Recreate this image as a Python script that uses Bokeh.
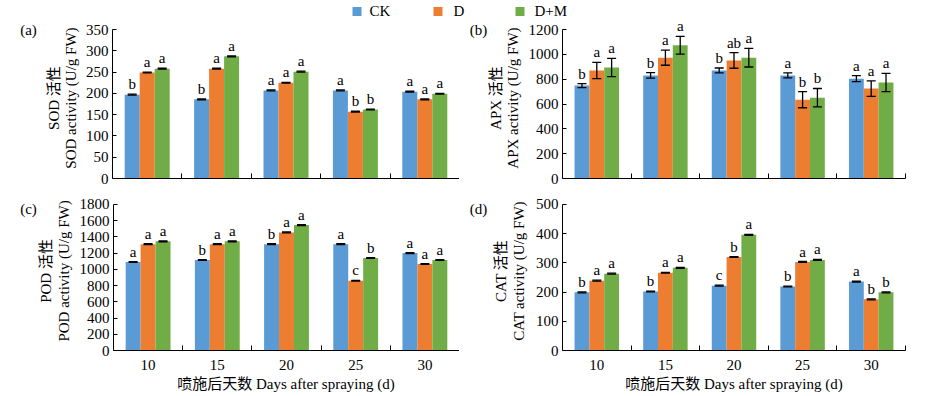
from math import pi
from bokeh.plotting import figure
from bokeh.models import (Range1d, FixedTicker, SingleIntervalTicker, ColumnDataSource, LabelSet)
from bokeh.layouts import column, row
from bokeh.embed import file_html
from bokeh.resources import INLINE
from bokeh.core.properties import value

# ---------------- data ----------------
days = ["10", "15", "20", "25", "30"]
groups = ["CK", "D", "D+M"]
colors = ["#5B9BD5", "#ED7D31", "#70AD47"]

sod_ck = [197, 186, 207, 207, 204]
sod_d = [249, 258, 225, 157, 186]
sod_dm = [258, 287, 251, 162, 199]
sod_ck_err = [1, 1, 1, 1, 1]
sod_d_err = [1, 1, 1, 1, 1]
sod_dm_err = [1, 1, 1, 1, 1]
sod_ck_sig = ["b", "b", "a", "a", "a"]
sod_d_sig = ["a", "a", "a", "b", "a"]
sod_dm_sig = ["a", "a", "a", "b", "a"]

apx_ck = [748, 830, 870, 830, 804]
apx_d = [870, 973, 951, 635, 724]
apx_dm = [894, 1073, 973, 651, 773]
apx_ck_err = [16, 22, 20, 20, 24]
apx_d_err = [66, 61, 63, 65, 62]
apx_dm_err = [73, 71, 75, 74, 73]
apx_ck_sig = ["b", "b", "b", "a", "a"]
apx_d_sig = ["a", "a", "ab", "b", "a"]
apx_dm_sig = ["a", "a", "a", "b", "a"]

pod_ck = [1090, 1115, 1310, 1310, 1200]
pod_d = [1310, 1310, 1455, 860, 1065]
pod_dm = [1345, 1345, 1545, 1140, 1115]
pod_ck_err = [5, 5, 5, 5, 5]
pod_d_err = [5, 5, 5, 5, 5]
pod_dm_err = [5, 5, 5, 5, 5]
pod_ck_sig = ["a", "b", "b", "a", "a"]
pod_d_sig = ["a", "a", "a", "c", "a"]
pod_dm_sig = ["a", "a", "a", "b", "a"]

cat_ck = [199, 202, 222, 219, 236]
cat_d = [239, 266, 320, 303, 175]
cat_dm = [263, 283, 396, 310, 199]
cat_ck_err = [1.5, 1.5, 1.5, 1.5, 1.5]
cat_d_err = [1.5, 1.5, 1.5, 1.5, 1.5]
cat_dm_err = [1.5, 1.5, 1.5, 1.5, 1.5]
cat_ck_sig = ["b", "b", "c", "b", "a"]
cat_d_sig = ["a", "a", "b", "a", "b"]
cat_dm_sig = ["a", "a", "a", "a", "b"]

x_title = "喷施后天数 Days after spraying (d)"

SERIF = "Liberation Serif"
MIXED = "'Liberation Serif', 'Noto Sans CJK SC'"
FS = "15px"

BAR_W = 0.216
offs = [-BAR_W, 0.0, BAR_W]


def blank(x0, y0, w, h):
    """A figure without axes whose data units equal page pixels."""
    p = figure(width=w, height=h, output_backend="svg", toolbar_location=None,
               x_range=Range1d(x0, x0 + w), y_range=Range1d(y0 + h, y0),
               x_axis_type=None, y_axis_type=None,
               min_border_left=0, min_border_right=0, min_border_top=0, min_border_bottom=0)
    p.outline_line_color = None
    p.grid.visible = False
    p.background_fill_color = "white"
    p.border_fill_color = "white"
    return p


def make_panel(P, cx, cy, cw, ch, frame, ext):
    L, T, R, B = frame
    ymax = P["ymax"]
    Te = T - ext  # frame reaches a little above the top tick so letters are not clipped
    ytop = ymax * (B - Te) / (B - T)
    p = figure(width=cw, height=ch, output_backend="svg", toolbar_location=None,
               x_range=Range1d(-0.5, 4.5), y_range=Range1d(0, ytop),
               min_border_left=L - cx, min_border_right=cx + cw - R,
               min_border_top=Te - cy, min_border_bottom=cy + ch - B)
    p.outline_line_color = None
    p.xgrid.visible = False
    p.ygrid.visible = False
    p.background_fill_color = "white"
    p.border_fill_color = "white"

    cap = 4.5 / (R - L) * 5.0
    for k in range(3):
        xs = [i + offs[k] for i in range(5)]
        v = P["vals"][k]
        e = P["errs"][k]
        src = ColumnDataSource(dict(
            x=xs, top=v,
            lo=[a - b for a, b in zip(v, e)], hi=[a + b for a, b in zip(v, e)],
            cl=[x - cap for x in xs], cr=[x + cap for x in xs],
            sig=P["sigs"][k]))
        p.vbar(x="x", top="top", bottom=0, width=BAR_W, source=src,
               fill_color=colors[k], line_color=None)
        p.segment(x0="x", y0="lo", x1="x", y1="hi", source=src, line_color="black", line_width=1.3)
        p.segment(x0="cl", y0="hi", x1="cr", y1="hi", source=src, line_color="black", line_width=1.3)
        p.segment(x0="cl", y0="lo", x1="cr", y1="lo", source=src, line_color="black", line_width=1.3)
        p.add_layout(LabelSet(x="x", y="hi", text="sig", source=src, y_offset=5,
                              text_align="center", text_baseline="alphabetic",
                              text_font=value(SERIF), text_font_size=value(FS),
                              text_color="black"))

    ya = p.yaxis[0]
    ya.ticker = SingleIntervalTicker(interval=P["step"], num_minor_ticks=0)
    ya.bounds = (0, ymax)
    ya.major_tick_in = 4
    ya.major_tick_out = 0
    ya.minor_tick_line_color = None
    ya.axis_line_color = "black"
    ya.major_tick_line_color = "black"
    ya.major_label_standoff = 4
    ya.major_label_text_font = SERIF
    ya.major_label_text_font_size = FS
    ya.major_label_text_color = "black"

    xa = p.xaxis[0]
    xa.ticker = FixedTicker(ticks=[0, 1, 2, 3, 4] if P["xlab"] else [],
                            minor_ticks=[0.5, 1.5, 2.5, 3.5, 4.5])
    xa.major_label_overrides = {i: d for i, d in enumerate(days)}
    xa.major_tick_line_color = None
    xa.minor_tick_in = 5
    xa.minor_tick_out = 0
    xa.minor_tick_line_color = "black"
    xa.axis_line_color = "black"
    xa.major_label_standoff = 3
    xa.major_label_text_font = SERIF
    xa.major_label_text_font_size = FS
    xa.major_label_text_color = "black"
    return p


def make_side(P, x0, y0, w, h):
    """Panel tag and the two-line y title, left of a panel."""
    p = blank(x0, y0, w, h)
    p.text(x=[P["tag"][0]], y=[P["tag"][1]], text=[P["tag_text"]],
           text_align="center", text_baseline="middle",
           text_font=value(SERIF), text_font_size=value(FS), text_color="black")
    p.text(x=[P["yl"][0]], y=[P["ymid"]], text=[P["cn"]], angle=pi / 2,
           text_align="center", text_baseline="middle",
           text_font=value(MIXED), text_font_size=value(FS), text_color="black")
    p.text(x=[P["yl"][1]], y=[P["ymid"]], text=[P["en"]], angle=pi / 2,
           text_align="center", text_baseline="middle",
           text_font=value(SERIF), text_font_size=value(FS), text_color="black")
    return p


panels = [
    dict(tag_text="(a)", cn="SOD 活性", en="SOD activity (U/g FW)", ymax=350, step=50,
         vals=[sod_ck, sod_d, sod_dm], errs=[sod_ck_err, sod_d_err, sod_dm_err],
         sigs=[sod_ck_sig, sod_d_sig, sod_dm_sig], xlab=False,
         tag=(28, 30), yl=(53, 70), ymid=103.5),
    dict(tag_text="(b)", cn="APX 活性", en="APX activity (U/g FW)", ymax=1200, step=200,
         vals=[apx_ck, apx_d, apx_dm], errs=[apx_ck_err, apx_d_err, apx_dm_err],
         sigs=[apx_ck_sig, apx_d_sig, apx_dm_sig], xlab=False,
         tag=(478, 30), yl=(495, 512), ymid=103.5),
    dict(tag_text="(c)", cn="POD 活性", en="POD activity (U/g FW)", ymax=1800, step=200,
         vals=[pod_ck, pod_d, pod_dm], errs=[pod_ck_err, pod_d_err, pod_dm_err],
         sigs=[pod_ck_sig, pod_d_sig, pod_dm_sig], xlab=True,
         tag=(28, 205), yl=(45, 63), ymid=278),
    dict(tag_text="(d)", cn="CAT 活性", en="CAT activity (U/g FW)", ymax=500, step=100,
         vals=[cat_ck, cat_d, cat_dm], errs=[cat_ck_err, cat_d_err, cat_dm_err],
         sigs=[cat_ck_sig, cat_d_sig, cat_dm_sig], xlab=True,
         tag=(478, 205), yl=(500, 518), ymid=278),
]

# ---- legend strip (page y 0..18) ----
leg = blank(0, 0, 943, 18)
leg_sq_x = [356.5, 437.5, 519.5]
leg_tx_x = [369, 453, 534]
leg.rect(x=leg_sq_x, y=[11] * 3, width=9, height=9, fill_color=colors, line_color=None)
leg.text(x=leg_tx_x, y=[10.5] * 3, text=groups, text_align="left", text_baseline="middle",
         text_font=value(SERIF), text_font_size=value(FS), text_color="black")

# ---- row 1 (page y 18..190) ----
side_a = make_side(panels[0], 0, 18, 82, 172)
fig_a = make_panel(panels[0], 82, 18, 377, 172, (112, 29, 459, 178), 11)
side_b = make_side(panels[1], 459, 18, 63, 172)
fig_b = make_panel(panels[1], 522, 18, 421, 172, (562, 29, 905, 178), 11)

# ---- row 2 (page y 190..372) ----
side_c = make_side(panels[2], 0, 190, 76, 182)
fig_c = make_panel(panels[2], 76, 190, 383, 182, (112, 204, 459, 352), 8)
side_d = make_side(panels[3], 459, 190, 70, 182)
fig_d = make_panel(panels[3], 529, 190, 414, 182, (562, 204, 905, 352), 8)

# ---- x title strip (page y 372..396) ----
xt = blank(0, 372, 943, 24)
xt.text(x=[285.5, 733.5], y=[383, 383], text=[x_title, x_title],
        text_align="center", text_baseline="middle",
        text_font=value(MIXED), text_font_size=value(FS), text_color="black")

layout = column(leg,
                row(side_a, fig_a, side_b, fig_b),
                row(side_c, fig_c, side_d, fig_d),
                xt)

open("out.html", "w").write(file_html(layout, INLINE))
